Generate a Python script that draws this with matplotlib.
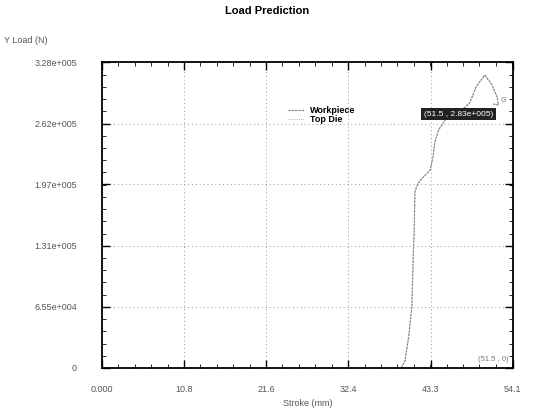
import matplotlib.pyplot as plt
import numpy as np
from matplotlib.ticker import AutoMinorLocator

plt.rcParams['font.family'] = ['Liberation Sans', 'DejaVu Sans']

# stroke (mm) and load (N)
stroke = [39.4, 39.9, 40.4, 40.8, 41.0, 41.1, 41.2, 41.4, 41.7, 42.1, 43.2, 43.6,
          43.8, 44.3, 45.2, 46.5, 48.4, 49.3, 50.4, 51.3, 52.0, 52.2, 51.5]
load = [0, 8.0e3, 3.5e4, 6.6e4, 1.27e5, 1.46e5, 1.88e5, 1.94e5, 1.99e5, 2.03e5, 2.12e5, 2.27e5,
        2.41e5, 2.55e5, 2.66e5, 2.70e5, 2.84e5, 3.02e5, 3.14e5, 3.04e5, 2.91e5, 2.82e5, 2.83e5]
die_stroke = stroke
die_load = load

xticks = [0.0, 10.8, 21.6, 32.4, 43.3, 54.1]
xlabels = ['0.000', '10.8', '21.6', '32.4', '43.3', '54.1']
yticks = [0, 6.55e4, 1.31e5, 1.97e5, 2.62e5, 3.28e5]
ylabels = ['0', '6.55e+004', '1.31e+005', '1.97e+005', '2.62e+005', '3.28e+005']

fig = plt.figure(figsize=(5.35, 4.12), dpi=100)
ax = fig.add_axes([0.1907, 0.1068, 0.768, 0.7427])

ax.plot(stroke, load, color='#777777', lw=0.8, ls=(0, (2, 1)), label='Workpiece')
ax.plot(die_stroke, die_load, color='#999999', lw=0.6, ls=(0, (1, 1.5)), label='Top Die')

ax.set_xlim(0, 54.1)
ax.set_ylim(0, 3.28e5)
ax.set_xticks(xticks)
ax.set_xticklabels(xlabels)
ax.set_yticks(yticks)
ax.set_yticklabels(ylabels)
ax.xaxis.set_minor_locator(AutoMinorLocator(5))
ax.yaxis.set_minor_locator(AutoMinorLocator(5))
ax.tick_params(which='both', direction='in', top=True, right=True, colors='black',
               labelcolor='#555555', labelsize=6.5)
ax.tick_params(which='major', length=6, width=1)
ax.tick_params(which='minor', length=3, width=0.6)
ax.tick_params(axis='y', pad=18)
ax.tick_params(axis='x', pad=12)
ax.grid(True, which='major', color='#999999', ls=(0, (1, 3)), lw=0.7)
for s in ax.spines.values():
    s.set_linewidth(1.3)

ax.set_xlabel('Stroke (mm)', fontsize=6.5, color='#555555', labelpad=4)
fig.text(0.008, 0.895, 'Y Load (N)', fontsize=6.5, color='#555555')
fig.suptitle('Load Prediction', fontsize=8, fontweight='bold', y=0.985)

leg = ax.legend(loc='upper left', bbox_to_anchor=(0.44, 0.875), frameon=False,
                fontsize=6.5, handlelength=1.8, labelspacing=0.05, borderpad=0.1,
                handletextpad=0.6)
for t in leg.get_texts():
    t.set_fontweight('bold')

ax.text(51.5, 2.72e5, '(51.5 , 2.83e+005)', fontsize=6, color='white', ha='right', va='center',
        bbox=dict(boxstyle='square,pad=0.3', fc='#222222', ec='none'))
ax.text(52.5, 2.85e5, 'G', fontsize=5, color='#777777')
ax.text(51.5, 8e3, '(51.5 , 0)', fontsize=5.5, color='#777777', ha='center')

fig.savefig('out.png', dpi=100)
